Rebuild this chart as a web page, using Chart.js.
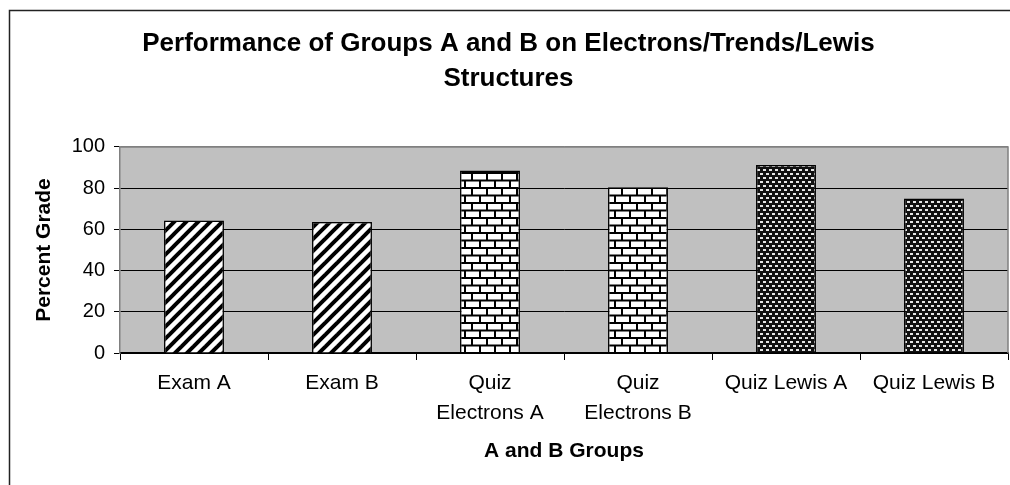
<!DOCTYPE html>
<html>
<head>
<meta charset="utf-8">
<script src="https://cdn.jsdelivr.net/npm/chart.js@4.4.1/dist/chart.umd.min.js"></script>
<style>
  html, body { margin: 0; padding: 0; background: #fff; }
  #wrap { width: 1010px; height: 485px; }
</style>
</head>
<body>
<div id="wrap"><canvas id="chart" width="1010" height="485"></canvas></div>
<script>
const categories = ['Exam A', 'Exam B', ['Quiz', 'Electrons A'], ['Quiz', 'Electrons B'], 'Quiz Lewis A', 'Quiz Lewis B'];
const grades = [64.3, 63.6, 88.6, 80.5, 91.3, 75.0];
const fillKinds = ['stripes', 'stripes', 'bricks', 'bricks', 'dots', 'dots'];

const FONT = "'Liberation Sans', Arial, sans-serif";

function makeTile(w, h, draw) {
    const c = document.createElement('canvas');
    c.width = w;
    c.height = h;
    draw(c.getContext('2d'));
    return document.getElementById('chart').getContext('2d').createPattern(c, 'repeat');
}

const patterns = {
    stripes: makeTile(12, 12, function (g) {
        g.fillStyle = '#fff';
        g.fillRect(0, 0, 12, 12);
        g.strokeStyle = '#000';
        g.lineWidth = 4;
        [[-3, 15, 15, -3], [-9, 9, 9, -9], [3, 21, 21, 3]].forEach(l => {
            g.beginPath();
            g.moveTo(l[0], l[1]);
            g.lineTo(l[2], l[3]);
            g.stroke();
        });
    }),
    bricks: makeTile(30, 15, function (g) {
        g.fillStyle = '#000';
        g.fillRect(0, 0, 30, 15);
        g.fillStyle = '#fff';
        // first row
        g.fillRect(1, 1.5, 13, 5.5);
        g.fillRect(16, 1.5, 13, 5.5);
        // second row, shifted half a brick
        g.fillRect(8, 9, 13, 5.5);
        g.fillRect(23, 9, 7, 5.5);
        g.fillRect(0, 9, 6, 5.5);
    }),
    dots: makeTile(6, 8, function (g) {
        g.fillStyle = '#111';
        g.fillRect(0, 0, 6, 8);
        g.fillStyle = '#e6e6e6';
        g.fillRect(1, 1, 3, 2);
        g.fillRect(4, 5, 2, 2);
        g.fillRect(0, 5, 1, 2);
    })
};

const plotFrame = {
    id: 'plotFrame',
    beforeDraw(chart) {
        const { ctx, chartArea: a } = chart;
        ctx.save();
        // outer chart border (right and bottom fall outside the picture)
        ctx.strokeStyle = '#222';
        ctx.lineWidth = 1.5;
        ctx.strokeRect(9.5, 10.5, 1100, 600);
        ctx.fillStyle = '#c0c0c0';
        ctx.fillRect(a.left, a.top, a.right - a.left, a.bottom - a.top);
        ctx.restore();
    },
    beforeDatasetsDraw(chart) {
        const { ctx, chartArea: a } = chart;
        ctx.save();
        ctx.strokeStyle = '#808080';
        ctx.lineWidth = 1.5;
        ctx.beginPath();
        ctx.moveTo(a.left, a.top);
        ctx.lineTo(a.right, a.top);
        ctx.lineTo(a.right, a.bottom);
        ctx.stroke();
        ctx.restore();
    }
};

new Chart(document.getElementById('chart'), {
    type: 'bar',
    data: {
        labels: categories,
        datasets: [{
            data: grades,
            backgroundColor: fillKinds.map(k => patterns[k]),
            borderColor: '#000',
            borderWidth: 1.5,
            categoryPercentage: 1,
            barPercentage: 0.405
        }]
    },
    options: {
        responsive: false,
        animation: false,
        layout: { padding: { left: 9, top: 10, right: 2, bottom: 0 } },
        plugins: {
            legend: { display: false },
            tooltip: { enabled: false },
            title: {
                display: true,
                text: ['Performance of Groups A and B on Electrons/Trends/Lewis', 'Structures'],
                color: '#000',
                font: { family: FONT, size: 26, weight: 'bold', lineHeight: 1.365 },
                padding: { top: 16, bottom: 50 }
            }
        },
        scales: {
            x: {
                afterFit: s => { s.height = 132; },
                grid: {
                    drawOnChartArea: false,
                    drawTicks: true,
                    tickLength: 7,
                    color: '#000',
                    offset: true
                },
                border: { display: true, color: '#000', width: 1.5 },
                ticks: {
                    color: '#000',
                    padding: 8,
                    maxRotation: 0,
                    autoSkip: false,
                    font: { family: FONT, size: 21, lineHeight: 1.43 }
                },
                title: {
                    display: true,
                    text: 'A and B Groups',
                    color: '#000',
                    font: { family: FONT, size: 21, weight: 'bold', lineHeight: 1.2 },
                    padding: { top: 0, bottom: 21 }
                }
            },
            y: {
                min: 0,
                max: 100,
                afterFit: s => { s.width = 111; },
                grid: {
                    color: c => (c.tick && c.tick.value === 100 ? '#808080' : '#000'),
                    tickColor: '#000',
                    lineWidth: 1,
                    tickLength: 6
                },
                border: { display: true, color: '#808080', width: 1.5 },
                ticks: {
                    stepSize: 20,
                    color: '#000',
                    padding: 9,
                    font: { family: FONT, size: 20 }
                },
                title: {
                    display: true,
                    text: 'Percent Grade',
                    color: '#000',
                    font: { family: FONT, size: 21, weight: 'bold', lineHeight: 1.2 },
                    padding: { top: 23, bottom: 0 }
                }
            }
        }
    },
    plugins: [plotFrame]
});
</script>
</body>
</html>
